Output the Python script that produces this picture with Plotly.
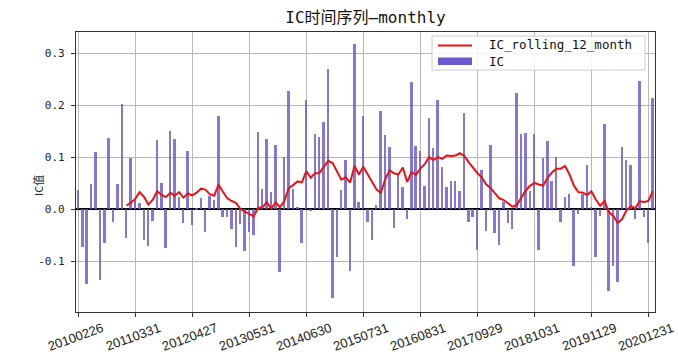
import pandas as pd
import plotly.graph_objects as go

# Monthly IC values (20100226 ... 20210129)
IC = [
    0.037, -0.073, -0.144, 0.048, 0.110, -0.135, -0.064, 0.137, -0.024, 0.049, 0.203, -0.056, 0.099,
    0.017, 0.012, -0.059, -0.070, -0.023, 0.133, 0.051, -0.075, 0.150, 0.136, 0.024, -0.027, 0.113,
    -0.030, 0.003, 0.021, -0.043, 0.026, 0.017, 0.179, -0.015, -0.014, -0.038, -0.072, -0.028, -0.081,
    -0.043, -0.049, 0.149, 0.040, 0.136, 0.033, 0.124, -0.120, 0.101, 0.228, 0.040, 0.004, -0.064,
    0.210, -0.002, 0.145, 0.140, 0.167, 0.269, -0.171, -0.092, 0.038, 0.095, -0.118, 0.318, 0.015,
    0.179, -0.024, -0.059, 0.009, 0.190, 0.142, 0.119, -0.035, 0.069, 0.042, -0.018, 0.244, 0.122,
    0.113, 0.044, 0.176, 0.117, 0.210, 0.082, 0.042, 0.055, 0.054, 0.035, 0.185, -0.025, -0.015,
    -0.078, 0.076, -0.042, 0.124, -0.046, -0.069, 0.015, -0.027, -0.038, 0.223, 0.145, 0.146, 0.035,
    0.145, -0.079, 0.098, 0.131, 0.055, 0.101, -0.025, 0.024, 0.029, -0.109, -0.009, 0.029, 0.085,
    0.005, -0.091, -0.012, 0.164, -0.158, -0.109, -0.139, 0.119, 0.094, 0.085, -0.019, 0.247, -0.014,
    -0.065, 0.215,
]

TICK_POS = [0, 13, 26, 39, 52, 65, 78, 91, 104, 117, 130]
TICK_LABELS = ["20100226", "20110331", "20120427", "20130531", "20140630", "20150731",
               "20160831", "20170929", "20181031", "20191129", "20201231"]
Y_TICKS = [-0.1, 0.0, 0.1, 0.2, 0.3]
Y_TICK_LABELS = ["-0.1", "0.0", "0.1", "0.2", "0.3"]
LEGEND_NAMES = ["IC_rolling_12_month", "IC"]

BAR_COLOR = "#6A5ACD"
LINE_COLOR = "#ee1111"

x = list(range(len(IC)))
rolling = pd.Series(IC).rolling(12).mean()
rolling = [None if pd.isna(v) else float(v) for v in rolling]

W, H = 678, 354
L, R, T, B = 76, 23, 32, 42
PW, PH = W - L - R, H - T - B


def px(xp):
    return (xp - L) / PW


def py(yp):
    return (H - B - yp) / PH


fig = go.Figure()
fig.add_trace(go.Bar(
    x=x, y=IC, name=LEGEND_NAMES[1], marker=dict(color=BAR_COLOR, line=dict(width=0)),
    opacity=0.82, width=0.45, showlegend=False,
))
fig.add_trace(go.Scatter(
    x=x, y=rolling, name=LEGEND_NAMES[0], mode="lines",
    line=dict(color=LINE_COLOR, width=2), showlegend=False,
))

axis_common = dict(
    showline=True, mirror=True, linecolor="#333333", linewidth=1.2,
    ticks="outside", ticklen=4, tickcolor="#333333",
    showgrid=True, gridcolor="#b8b8b8", gridwidth=1, automargin=False,
)

LEG_FONT = dict(family="DejaVu Sans Mono", size=12.5, color="#111111")

# legend (drawn to match the compact matplotlib legend)
shapes = [
    dict(type="rect", xref="paper", yref="paper", x0=px(432), x1=px(645), y0=py(70), y1=py(36),
         fillcolor="rgba(255,255,255,0.85)", line=dict(color="#cccccc", width=1), layer="above"),
    dict(type="line", xref="paper", yref="paper", x0=px(438), x1=px(472), y0=py(45.5), y1=py(45.5),
         line=dict(color=LINE_COLOR, width=2), layer="above"),
    dict(type="rect", xref="paper", yref="paper", x0=px(438), x1=px(472), y0=py(65), y1=py(57.5),
         fillcolor=BAR_COLOR, line=dict(width=0), layer="above"),
]
annotations = [
    dict(text=LEGEND_NAMES[0], xref="paper", yref="paper", x=px(487), y=py(45),
         xanchor="left", yanchor="middle", showarrow=False, font=LEG_FONT),
    dict(text=LEGEND_NAMES[1], xref="paper", yref="paper", x=px(487), y=py(61.5),
         xanchor="left", yanchor="middle", showarrow=False, font=LEG_FONT),
    dict(text="IC值", textangle=-90, xref="paper", yref="paper",
         x=px(38), y=py(185), xanchor="center", yanchor="middle",
         showarrow=False, font=dict(family="Noto Sans CJK SC", size=11, color="#222222")),
]

fig.update_layout(
    width=W, height=H,
    margin=dict(l=L, r=R, t=T, b=B),
    paper_bgcolor="white", plot_bgcolor="white",
    showlegend=False,
    title=dict(
        text="IC时间序列—monthly", x=0.5, xanchor="center", xref="paper",
        y=1 - 17 / H, yref="container", yanchor="middle",
        font=dict(family="DejaVu Sans Mono, Noto Sans CJK SC", size=16, color="#111111"),
    ),
    xaxis=dict(
        range=[-0.5, 131.5], tickmode="array", tickvals=TICK_POS, ticktext=TICK_LABELS,
        tickangle=-20, ticklabelshift=24, ticklabelstandoff=-1, ticklabeloverflow="allow",
        tickfont=dict(family="Liberation Sans, Arial", size=13, color="#222222"),
        zeroline=False, **axis_common,
    ),
    yaxis=dict(
        range=[-0.1975, 0.341], tickmode="array", tickvals=Y_TICKS, ticktext=Y_TICK_LABELS,
        tickfont=dict(family="DejaVu Sans Mono", size=11, color="#222222"),
        ticklabelstandoff=4,
        zeroline=True, zerolinecolor="black", zerolinewidth=1.5,
        **axis_common,
    ),
    bargap=0,
    shapes=shapes,
    annotations=annotations,
)

fig.write_html("out.html")
